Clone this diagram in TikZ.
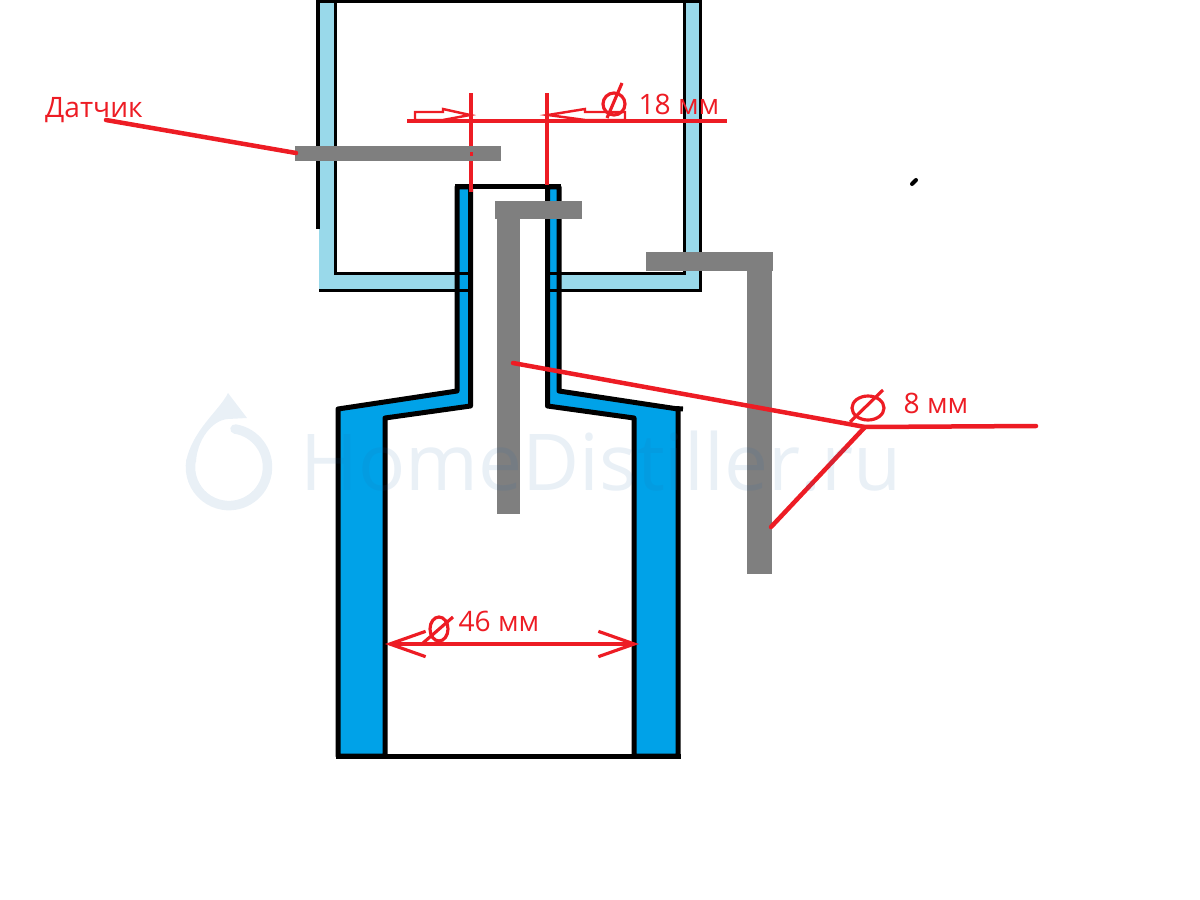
\documentclass[tikz,border=0pt]{standalone}
\usepackage{fontspec}
\setmainfont{Open Sans}
\usetikzlibrary{arrows.meta}
\definecolor{wallblue}{HTML}{99D9EA}
\definecolor{bodyblue}{HTML}{00A2E8}
\definecolor{pipegray}{HTML}{7F7F7F}
\definecolor{markred}{HTML}{ED1C24}
\definecolor{logoblue}{HTML}{2468A8}

\begin{document}
\begin{tikzpicture}[x=0.01cm, y=-0.01cm]
% Styles ---
\tikzstyle{wall} = [draw = black, line width = 1pt, line cap = rect]
\tikzstyle{glass} = [draw = black, line width = 1.42pt, fill = bodyblue, line join = round]
\tikzstyle{pipe} = [fill = pipegray]
\tikzstyle{lbl} = [text = markred, inner sep = 0pt, font = \fontsize{8}{10}\selectfont]
\tikzstyle{lead} = [draw = markred, line width = 1.28pt, line cap = round]
\tikzstyle{dim} = [draw = markred, line width = 0.9pt]
\tikzstyle{tip} = [draw = markred, line width = 0.7pt, fill = white]
\tikzstyle{span} = [draw = markred, line width = 0.9pt, {Straight Barb[length=10.2pt, width=7.2pt]}-{Straight Barb[length=10.2pt, width=7.2pt]}]
\useasboundingbox (0,0) rectangle (1200,900);
% Upper tank ---
\fill [wallblue] (319,0) rectangle (335,290);
\fill [wallblue] (685,0) rectangle (700,290);
\fill [wallblue] (319,274) rectangle (700,290);
\draw [wall] (318,0) -- (318,227);
\draw [wall] (335.5,0) -- (335.5,273);
\draw [wall] (684.5,0) -- (684.5,273);
\draw [wall] (700.5,0) -- (700.5,290);
\draw [wall] (318,1) -- (700,1);
% Bottle ---
\fill [white] (457,187) rectangle (559,400);
\draw [glass] (338,409) -- (457,391) -- (457,187) -- (470.5,187) -- (470.5,406) -- (385,418) -- (385,756) -- (338,756) -- cycle;
\draw [glass] (678,409) -- (559,391) -- (559,187) -- (547.5,187) -- (547.5,406) -- (634,418) -- (634,756) -- (678,756) -- cycle;
\draw [black, line width = 1.42pt] (676,408.5) -- (683,409);
\draw [black, line width = 1.42pt] (336,756) -- (681,756);
\draw [black, line width = 1.42pt] (455,186.5) -- (561,186.5);
% Tank bottom, over the neck ---
\draw [wall] (336,273.5) -- (470,273.5);
\draw [wall] (321,290.5) -- (470,290.5);
\draw [wall] (548,273.5) -- (684,273.5);
\draw [wall] (548,290.5) -- (700,290.5);
% Size lines ---
\coordinate (dl) at (471,93);
\coordinate (dlb) at (471,192);
\coordinate (dr) at (547,93);
\coordinate (drb) at (547,185);
\coordinate (hl) at (407,121);
\coordinate (hr) at (727,121);
\path (dl) edge [dim] (dlb);
\path (dr) edge [dim] (drb);
\path (hl) edge [dim] (hr);
\draw [tip] (415,120) -- (415,112) -- (443,112) -- (443,109) -- (470,115) -- (443,120) -- cycle;
\draw [tip] (548,115) -- (585,109) -- (585,112) -- (625,112) -- (625,120) -- (585,120) -- cycle;
% Pipes ---
\fill [pipe] (295,146) rectangle (501,161);
\fill [pipe] (495,201) rectangle (582,219);
\fill [pipe] (497,219) rectangle (520,514);
\fill [pipe] (646,252) rectangle (773,271);
\fill [pipe] (747,271) rectangle (772,574);
\fill [markred] (470,152) rectangle (473,156);
% Labels and leaders ---
\node at (94,110) [lbl] (sens) {Датчик};
\node at (679,104) [lbl] (d18) {18 мм};
\node at (936,403) [lbl] (d8) {8 мм};
\node at (499,621) [lbl] (d46) {46 мм};
\coordinate (sa) at (106,120);
\coordinate (sb) at (296,153);
\coordinate (pa) at (513,363);
\coordinate (pb) at (771,527);
\coordinate (hub) at (865,427);
\coordinate (pc) at (1036,426);
\coordinate (wl) at (385,644);
\coordinate (wr) at (639,644);
\path (sa) edge [lead] (sb);
\path (pa) edge [lead] (hub);
\path (pb) edge [lead] (hub);
\path (hub) edge [lead] (pc);
\path (wl) edge [span] (wr);
% Diameter signs
\draw [dim] (614,104) circle [radius=0.11cm];
\draw [dim] (607,118) -- (622,83);
\draw [dim] (868,408) circle [x radius=0.16cm, y radius=0.12cm];
\draw [dim] (850,422) -- (883,390);
\draw [dim] (439,629) circle [x radius=0.09cm, y radius=0.12cm];
\draw [dim] (423,643) -- (453,617);
% Stray mark
\draw [black, line width = 1.14pt, line cap = round] (912,184) -- (916,180);
% Watermark ---
\begin{scope}[opacity = 0.1, transparency group]
\node at (601,461) [text = logoblue, inner sep = 0pt, font = \fontsize{22.3}{26}\selectfont] (wm) {HomeDistiller.ru};
\draw [logoblue, line width = 2.7pt, line cap = round] (235,429) arc [start angle=81, end angle=-190, radius=0.385cm];
\fill [logoblue] (228,393) .. controls (220,410) and (192,430) .. (186,462) -- (196,462) .. controls (197,440) and (212,420) .. (228,419) -- (247,418) -- cycle;
\end{scope}
\end{tikzpicture}
\end{document}
